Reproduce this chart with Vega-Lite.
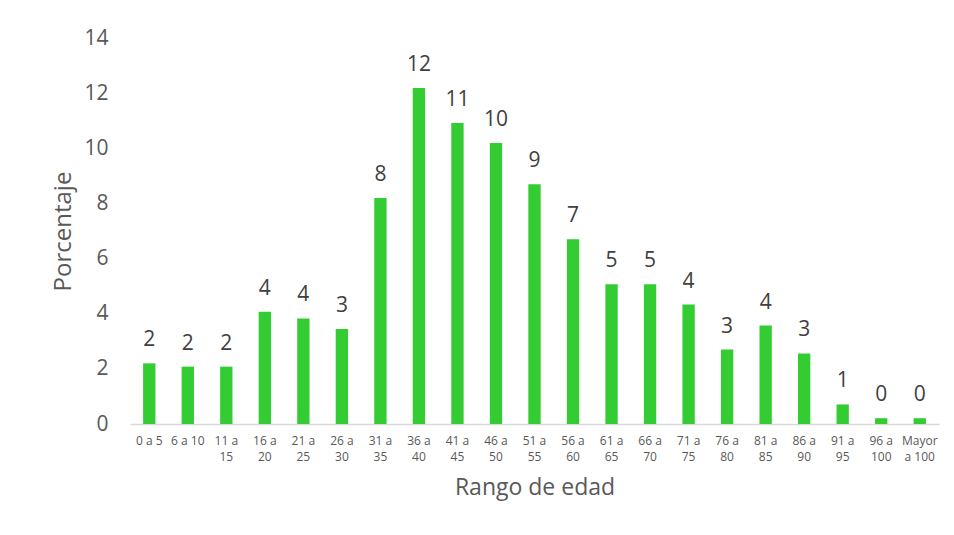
{
  "$schema": "https://vega.github.io/schema/vega-lite/v6.json",
  "width": 809,
  "height": 386,
  "autosize": {"type": "none"},
  "padding": {"left": 130, "top": 38, "right": 15, "bottom": 111},
  "background": "white",
  "config": {
    "view": {"stroke": null},
    "font": "Open Sans"
  },
  "data": {
    "values": [
      {"rango": "0 a 5", "porcentaje": 2.2},
      {"rango": "6 a 10", "porcentaje": 2.08},
      {"rango": "11 a 15", "porcentaje": 2.08},
      {"rango": "16 a 20", "porcentaje": 4.07},
      {"rango": "21 a 25", "porcentaje": 3.83},
      {"rango": "26 a 30", "porcentaje": 3.45},
      {"rango": "31 a 35", "porcentaje": 8.2},
      {"rango": "36 a 40", "porcentaje": 12.19},
      {"rango": "41 a 45", "porcentaje": 10.92},
      {"rango": "46 a 50", "porcentaje": 10.19},
      {"rango": "51 a 55", "porcentaje": 8.7},
      {"rango": "56 a 60", "porcentaje": 6.7},
      {"rango": "61 a 65", "porcentaje": 5.07},
      {"rango": "66 a 70", "porcentaje": 5.07},
      {"rango": "71 a 75", "porcentaje": 4.33},
      {"rango": "76 a 80", "porcentaje": 2.7},
      {"rango": "81 a 85", "porcentaje": 3.57},
      {"rango": "86 a 90", "porcentaje": 2.56},
      {"rango": "91 a 95", "porcentaje": 0.71},
      {"rango": "96 a 100", "porcentaje": 0.21},
      {"rango": "Mayor a 100", "porcentaje": 0.21}
    ]
  },
  "encoding": {
    "x": {
      "field": "rango",
      "type": "nominal",
      "sort": null,
      "scale": {"paddingInner": 0.68, "paddingOuter": 0.34},
      "axis": {
        "title": "Rango de edad",
        "titleFontSize": 23,
        "titleFontWeight": "normal",
        "titleColor": "#595959",
        "titlePadding": 14,
        "labelAngle": 0,
        "labelFontSize": 12,
        "labelColor": "#595959",
        "labelPadding": 11,
        "labelLineHeight": 16,
        "labelExpr": "datum.label == 'Mayor a 100' ? ['Mayor', 'a 100'] : (length(datum.label) > 6 ? [slice(datum.label, 0, 4), slice(datum.label, 5)] : datum.label)",
        "ticks": false,
        "domainColor": "#d9d9d9",
        "domainWidth": 1.5,
        "grid": false
      }
    },
    "y": {
      "field": "porcentaje",
      "type": "quantitative",
      "scale": {"domain": [0, 14]},
      "axis": {
        "title": "Porcentaje",
        "titleFontSize": 24,
        "titleFontWeight": "normal",
        "titleColor": "#595959",
        "titlePadding": 8,
        "values": [0, 2, 4, 6, 8, 10, 12, 14],
        "labelFontSize": 21,
        "labelColor": "#595959",
        "labelPadding": 22,
        "ticks": false,
        "domain": false,
        "grid": false
      }
    }
  },
  "layer": [
    {"mark": {"type": "bar", "color": "#33cc33"}},
    {
      "mark": {"type": "text", "fontSize": 21, "color": "#404040", "baseline": "alphabetic", "dy": -17},
      "encoding": {
        "text": {"field": "porcentaje", "type": "quantitative", "format": ".0f"}
      }
    }
  ]
}
